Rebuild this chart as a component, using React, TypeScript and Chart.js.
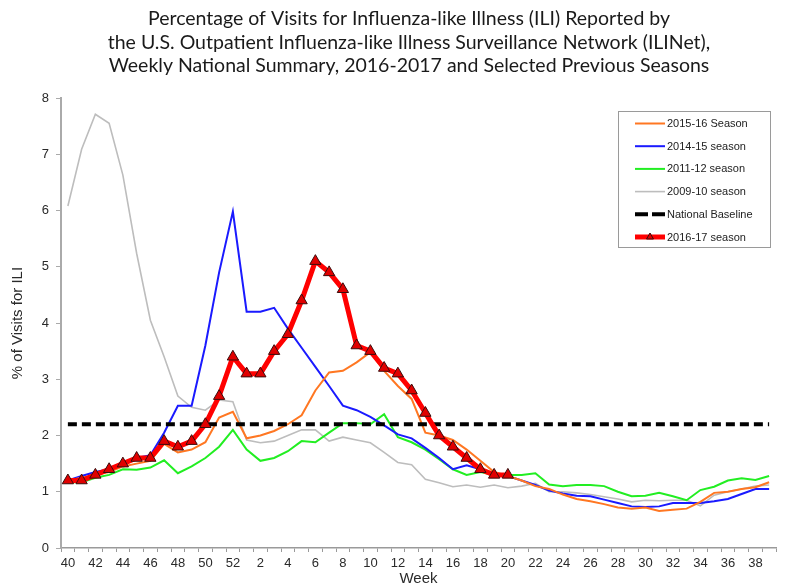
import React, { useEffect, useRef } from "react";
import { Chart, registerables } from "chart.js";
Chart.register(...registerables);

const weeks = [
  "40", "41", "42", "43", "44", "45", "46", "47", "48", "49", "50", "51", "52",
  "1", "2", "3", "4", "5", "6", "7", "8", "9", "10",
  "11", "12", "13", "14", "15", "16", "17", "18", "19", "20",
  "21", "22", "23", "24", "25", "26", "27", "28", "29", "30",
  "31", "32", "33", "34", "35", "36", "37", "38", "39",
];

const season201617 = [
  1.2, 1.2, 1.3, 1.4, 1.5, 1.6, 1.6, 1.9, 1.8, 1.9, 2.2, 2.7, 3.4,
  3.1, 3.1, 3.5, 3.8, 4.4, 5.1, 4.9, 4.6, 3.6, 3.5,
  3.2, 3.1, 2.8, 2.4, 2.0, 1.8, 1.6, 1.4, 1.3, 1.3,
];

const season201516 = [
  1.2, 1.25, 1.3, 1.35, 1.45, 1.5, 1.55, 1.85, 1.7, 1.75, 1.88, 2.32, 2.42,
  1.95, 2.0, 2.08, 2.2, 2.36, 2.8, 3.12, 3.15, 3.3, 3.48,
  3.15, 2.88, 2.65, 2.05, 2.0, 1.92, 1.75, 1.55, 1.35, 1.28,
  1.2, 1.1, 1.05, 0.95, 0.87, 0.83, 0.78, 0.72, 0.7, 0.72,
  0.66, 0.68, 0.7, 0.82, 0.98, 1.0, 1.05, 1.08, 1.17,
];

const season201415 = [
  1.2, 1.28, 1.35, 1.4, 1.47, 1.6, 1.65, 2.05, 2.53, 2.53, 3.6, 4.9, 5.98,
  4.2, 4.2, 4.27, 3.9, 3.56, 3.22, 2.88, 2.53, 2.45, 2.33,
  2.18, 2.02, 1.95, 1.78, 1.6, 1.4, 1.47, 1.4, 1.3, 1.28,
  1.2, 1.12, 1.02, 0.97, 0.93, 0.92, 0.86, 0.8, 0.74, 0.73,
  0.74, 0.8, 0.8, 0.8, 0.83, 0.87, 0.96, 1.05, 1.05,
];

const season201112 = [
  1.17, 1.17, 1.25, 1.3, 1.4, 1.39, 1.43, 1.56, 1.33, 1.45, 1.6, 1.8, 2.1,
  1.75, 1.55, 1.6, 1.72, 1.9, 1.88, 2.05, 2.22, 2.22, 2.2,
  2.38, 1.97, 1.88, 1.75, 1.58, 1.4, 1.3, 1.35, 1.3, 1.3,
  1.3, 1.33, 1.13, 1.1, 1.12, 1.12, 1.1, 1.0, 0.92, 0.93,
  0.98, 0.92, 0.85, 1.03, 1.09, 1.2, 1.24, 1.21, 1.28,
];

const season200910 = [
  6.08, 7.09, 7.71, 7.55, 6.63, 5.24, 4.05, 3.4, 2.7, 2.5, 2.45, 2.63, 2.6,
  1.92, 1.87, 1.9, 2.0, 2.1, 2.1, 1.9, 1.97, 1.92, 1.87,
  1.7, 1.52, 1.48, 1.22, 1.16, 1.09, 1.12, 1.08, 1.12, 1.07,
  1.1, 1.15, 1.0, 1.0, 0.98, 0.95, 0.91, 0.87, 0.82, 0.85,
  0.84, 0.85, 0.85, 0.75, 0.94, 1.0, 1.05, 1.1, 1.12,
];

const nationalBaseline = 2.2;

const yTicks = [0, 1, 2, 3, 4, 5, 6, 7, 8];

const titleLines = [
  "Percentage of Visits for Influenza-like Illness (ILI) Reported by",
  "the U.S. Outpatient Influenza-like Illness Surveillance Network (ILINet),",
  "Weekly National Summary, 2016-2017 and Selected Previous Seasons",
];

const legendLabels = [
  "2015-16 Season",
  "2014-15 season",
  "2011-12 season",
  "2009-10 season",
  "National Baseline",
  "2016-17 season",
];

const titlePlugin = {
  id: "customTitle",
  afterDraw(chart: any) {
    const ctx = chart.ctx;
    ctx.save();
    ctx.fillStyle = "#1a1a1a";
    ctx.font = '19.5px Lato';
    ctx.textAlign = "center";
    ctx.textBaseline = "middle";
    titleLines.forEach((t, i) => ctx.fillText(t, 409, 19 + i * 23.5));
    ctx.restore();
  },
};

const legendPlugin = {
  id: "customLegend",
  afterDraw(chart: any) {
    const ctx = chart.ctx;
    const ds = chart.data.datasets;
    // legend order: orange, blue, green, grey, baseline, red
    const order = [2, 3, 4, 5, 1, 0];
    ctx.save();
    ctx.fillStyle = "#ffffff";
    ctx.fillRect(618, 111, 153, 137);
    ctx.strokeStyle = "#9a9a9a";
    ctx.lineWidth = 1;
    ctx.strokeRect(618.5, 111.5, 152, 136);
    ctx.font = '11px "Liberation Sans"';
    ctx.textBaseline = "middle";
    ctx.textAlign = "left";
    order.forEach((di, row) => {
      const d = ds[di];
      const y = 123.5 + row * 22.7;
      ctx.save();
      ctx.strokeStyle = d.borderColor;
      ctx.lineWidth = d.borderWidth;
      if (d.borderDash) ctx.setLineDash([13, 4]);
      ctx.beginPath();
      ctx.moveTo(635, y);
      ctx.lineTo(665, y);
      ctx.stroke();
      ctx.restore();
      if (d.pointStyle === "triangle") {
        const r = 4;
        ctx.save();
        ctx.fillStyle = d.pointBackgroundColor;
        ctx.strokeStyle = d.pointBorderColor;
        ctx.lineWidth = 1;
        ctx.beginPath();
        ctx.moveTo(650, y - r);
        ctx.lineTo(650 + r * 0.87, y + r * 0.5);
        ctx.lineTo(650 - r * 0.87, y + r * 0.5);
        ctx.closePath();
        ctx.fill();
        ctx.stroke();
        ctx.restore();
      }
      ctx.fillStyle = "#222";
      ctx.fillText(legendLabels[row], 667, y + 0.5);
    });
    ctx.restore();
  },
};

export default function App() {
  const ref = useRef<HTMLCanvasElement>(null);
  useEffect(() => {
    const chart = new Chart(ref.current as HTMLCanvasElement, {
      type: "line",
      data: {
        labels: weeks,
        datasets: [
          {
            label: legendLabels[5],
            data: season201617,
            borderColor: "#ff0000",
            borderWidth: 5,
            pointStyle: "triangle",
            pointRadius: 6.5,
            pointBackgroundColor: "#e00000",
            pointBorderColor: "#3a0c0c",
            pointBorderWidth: 1,
            tension: 0,
          } as any,
          {
            label: legendLabels[4],
            data: weeks.map(() => nationalBaseline),
            borderColor: "#000000",
            borderWidth: 4,
            borderDash: [9, 5],
            pointRadius: 0,
          },
          {
            label: legendLabels[0],
            data: season201516,
            borderColor: "#ff7722",
            borderWidth: 2,
            pointRadius: 0,
          },
          {
            label: legendLabels[1],
            data: season201415,
            borderColor: "#1a1aff",
            borderWidth: 2,
            pointRadius: 0,
          },
          {
            label: legendLabels[2],
            data: season201112,
            borderColor: "#22ee22",
            borderWidth: 2,
            pointRadius: 0,
          },
          {
            label: legendLabels[3],
            data: season200910,
            borderColor: "#bdbdbd",
            borderWidth: 1.6,
            pointRadius: 0,
          },
        ],
      },
      options: {
        responsive: false,
        animation: false,
        devicePixelRatio: 1,
        layout: { padding: { top: 98, right: 12, left: 0, bottom: 0 } },
        plugins: {
          legend: { display: false },
          title: { display: false },
          tooltip: { enabled: false },
        },
        scales: {
          x: {
            type: "category",
            offset: true,
            grid: {
              offset: true,
              drawOnChartArea: false,
              drawTicks: true,
              tickLength: 4,
              color: "#9a9a9a",
            },
            border: { display: true, color: "#9a9a9a", width: 1.5 },
            ticks: {
              autoSkip: false,
              maxRotation: 0,
              minRotation: 0,
              padding: 4,
              color: "#2a2a2a",
              font: { family: "Liberation Sans", size: 13 },
              callback: (_v: any, i: number) => (i % 2 === 0 ? weeks[i] : ""),
            },
            title: {
              display: true,
              text: "Week",
              color: "#2a2a2a",
              font: { family: "Liberation Sans", size: 15 },
              padding: { top: 0, bottom: 0 },
            },
            afterFit: (scale: any) => {
              scale.height = 40;
            },
          },
          y: {
            min: 0,
            max: 8,
            afterBuildTicks: (scale: any) => {
              scale.ticks = yTicks.map((v) => ({ value: v }));
            },
            grid: {
              drawOnChartArea: false,
              drawTicks: true,
              tickLength: 5,
              color: "#aaaaaa",
            },
            border: { display: true, color: "#aaaaaa", width: 2 },
            ticks: {
              padding: 7,
              color: "#2a2a2a",
              font: { family: "Liberation Sans", size: 13 },
            },
            title: {
              display: true,
              text: "% of Visits for ILI",
              color: "#2a2a2a",
              font: { family: "Liberation Sans", size: 15 },
              padding: { top: 9, bottom: 0 },
            },
            afterFit: (scale: any) => {
              scale.width = 61;
            },
          },
        },
      },
      plugins: [titlePlugin, legendPlugin],
    });
    return () => chart.destroy();
  }, []);
  return (
    <div style={{ position: "absolute", left: 0, top: 0, width: 788, height: 588, background: "#fff" }}>
      <canvas ref={ref} width={788} height={588} style={{ display: "block", width: 788, height: 588 }} />
    </div>
  );
}
